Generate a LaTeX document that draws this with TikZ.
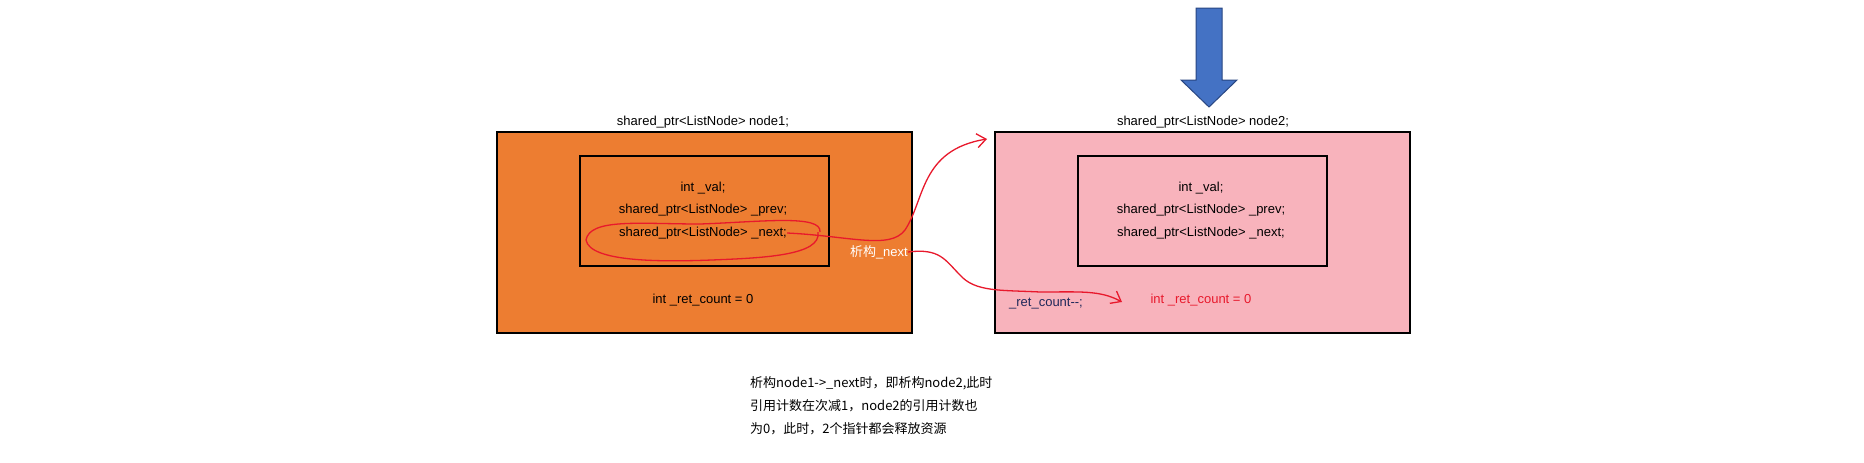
\documentclass[tikz,border=0pt]{standalone}
\usepackage{fontspec}
\setmainfont{Liberation Sans}
\newfontfamily\cjk{Noto Sans CJK SC}
\usetikzlibrary{arrows.meta}
\definecolor{org}{HTML}{ED7D31}
\definecolor{pnk}{HTML}{F8B3BC}
\definecolor{blu}{HTML}{4472C4}
\definecolor{rd}{HTML}{E8192C}
\begin{document}
\begin{tikzpicture}[x=1pt,y=-1pt,
  box/.style={draw=black,line width=2pt},
  txt/.style={font=\fontsize{13}{15}\selectfont,inner sep=0pt},
  redl/.style={draw=rd,line width=1.3pt},
  hook/.style={-{Straight Barb[length=9pt,width=14pt]}}]
\useasboundingbox[fill=white] (0,0) rectangle (1864,463);
\node[box,fill=org,minimum width=415,minimum height=201,inner sep=0,anchor=north west] (b1) at (496,131) {};
\node[box,fill=org,minimum width=249,minimum height=110,inner sep=0,anchor=north west] (i1) at (579,155) {};
\node[box,fill=pnk,minimum width=415,minimum height=201,inner sep=0,anchor=north west] (b2) at (994,131) {};
\node[box,fill=pnk,minimum width=249,minimum height=110,inner sep=0,anchor=north west] (i2) at (1077,155) {};
\node[txt] (t1) at (703,122) {shared\_ptr<ListNode> node1;};
\node[txt] (t2) at (1203,122) {shared\_ptr<ListNode> node2;};
\foreach \n/\x in {a/703,b/1201}{
  \node[txt] (v\n) at (\x,188) {int \_val;};
  \node[txt] (p\n) at (\x,210) {shared\_ptr<ListNode> \_prev;};
  \node[txt] (n\n) at (\x,233) {shared\_ptr<ListNode> \_next;};
}
\node[txt] (c1) at (703,300) {int \_ret\_count = 0};
\node[txt,text=rd] (c2) at (1201,300) {int \_ret\_count = 0};
\node[txt,text={rgb,255:red,31;green,40;blue,90}] (dec) at (1046,304) {\_ret\_count-{}-;};
\node[txt,text=white,anchor=east] (xg) at (908,252) {{\cjk 析构}\_next};
\draw[fill=blu,draw={rgb,255:red,40;green,70;blue,130},line width=1pt]
  (1196,8) -- (1222,8) -- (1222,80) -- (1237,80) -- (1209,107) -- (1181,80) -- (1196,80) -- cycle;
% ellipse
\draw[redl] (820,232) .. controls (822,214) and (760,222) .. (700,224)
  .. controls (640,224) and (590,218) .. (586,240)
  .. controls (590,262) and (660,262) .. (712,260)
  .. controls (760,258) and (822,256) .. (818,232);
\coordinate (e1) at (987,139);
\draw[redl,hook] (na.east) .. controls (850,236) and (890,250) .. (905,230)
  .. controls (925,200) and (920,150) .. (e1);
\coordinate (e2) at (1122,302);
\draw[redl,hook] (xg.east) .. controls (940,248) and (945,260) .. (960,275)
  .. controls (975,292) and (1000,290) .. (1040,292)
  .. controls (1080,292) and (1100,290) .. (e2);
\node[txt,align=left,anchor=north west,font=\cjk\fontsize{13}{23}\selectfont] (note) at (750,376)
 {析构node1->\_next时，即析构node2,此时\\引用计数在次减1，node2的引用计数也\\为0，此时，2个指针都会释放资源};
\end{tikzpicture}
\end{document}
